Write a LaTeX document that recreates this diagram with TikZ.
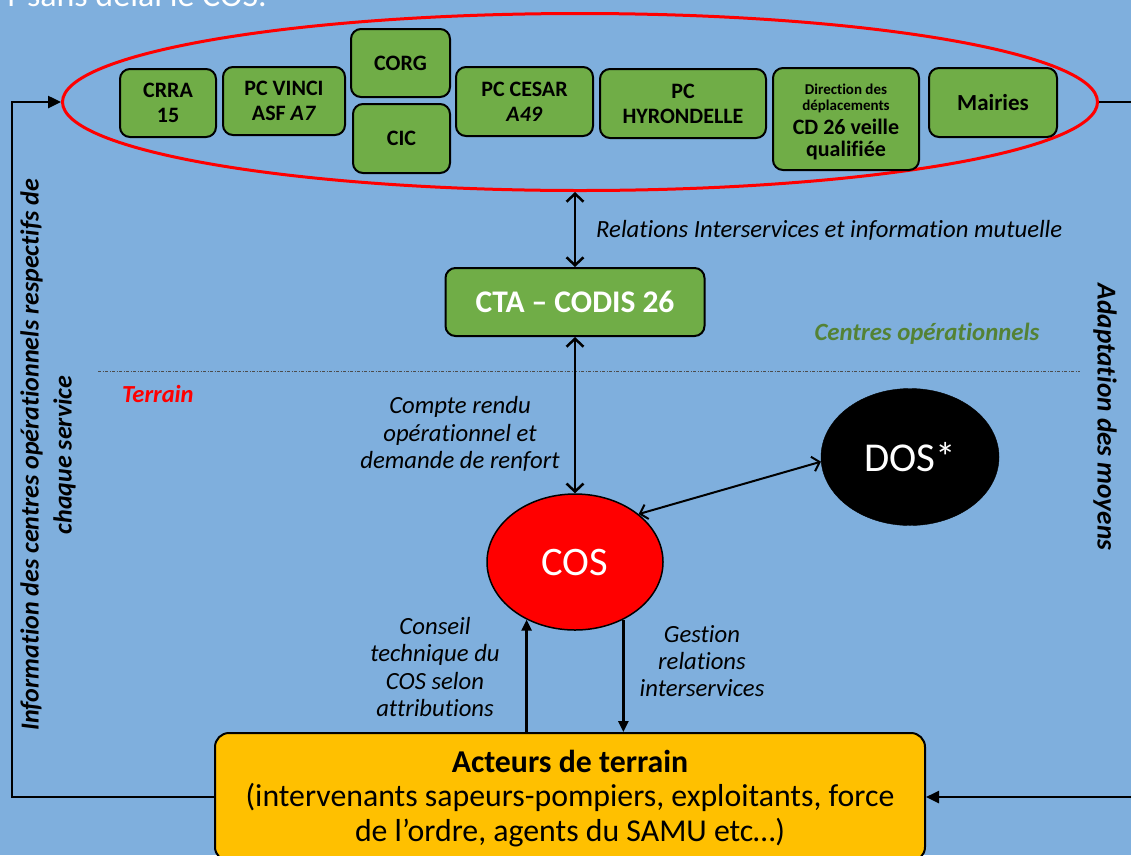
\documentclass[tikz,border=0pt]{standalone}
\usepackage{fontspec}
\setmainfont{Carlito}[Ligatures=NoCommon]
\usetikzlibrary{arrows.meta,shapes.geometric}
\definecolor{bg}{RGB}{127,175,221}
\definecolor{gbox}{RGB}{112,173,71}
\definecolor{ybox}{RGB}{255,192,0}
\definecolor{gtext}{RGB}{84,130,53}
\definecolor{redc}{RGB}{255,0,0}
\begin{document}
\begin{tikzpicture}[x=1pt,y=-1pt,
  gb/.style={draw=black, line width=2pt, fill=gbox, rounded corners=10pt, align=center,
    inner sep=0pt, font=\fontsize{22}{25}\selectfont\bfseries},
  vconn/.style={line width=2.5pt, >={Straight Barb[length=8pt,width=17pt]}, <->},
  tconn/.style={line width=2.5pt, -{Triangle[length=13pt,width=12pt]}},
  lbl/.style={align=center, inner sep=0pt, font=\fontsize{24.7}{27.3}\selectfont\itshape},
  side/.style={align=center, inner sep=0pt, font=\fontsize{26}{33}\selectfont\bfseries\itshape},
  smalltxt/.style={inner sep=0pt, font=\fontsize{15}{17}\selectfont\bfseries},
  bigtxt/.style={inner sep=0pt, font=\fontsize{22}{25}\selectfont\bfseries}]
\path[use as bounding box, fill=bg] (0,0) rectangle (1131,855);
\clip (0,0) rectangle (1131,855);

% top cut-off text
\node[anchor=base east, inner sep=0pt, text=white, font=\fontsize{34}{40}\selectfont] (toptxt) at (267,6) {r sans délai le COS.};

% big red oval
\node[draw=redc, line width=3pt, ellipse, minimum width=1035pt, minimum height=177pt, inner sep=0pt] (oval) at (580,102) {};

% green boxes
\node[gb, minimum width=96pt, minimum height=68pt] (crra) at (168,103) {CRRA\\15};
\node[gb, minimum width=122pt, minimum height=68pt] (vinci) at (284,101) {PC VINCI\\ASF \textit{A7}};
\node[gb, minimum width=99pt, minimum height=68pt] (corg) at (400.5,63) {CORG};
\node[gb, minimum width=97pt, minimum height=69pt] (cic) at (401.5,138.5) {CIC};
\node[gb, minimum width=137pt, minimum height=69pt] (cesar) at (524.5,101.5) {PC CESAR\\\textit{A49}};
\node[gb, minimum width=166pt, minimum height=69pt] (hyr) at (683,103.5) {PC\\HYRONDELLE};
\node[gb, minimum width=146pt, minimum height=102pt] (dir) at (846,119) {};
\node[smalltxt] (dir1) at (846,89) {Direction des};
\node[smalltxt] (dir2) at (846,106) {déplacements};
\node[bigtxt] (dir3) at (846,127) {CD 26 veille};
\node[bigtxt] (dir4) at (846,151) {qualifiée};
\node[gb, minimum width=128pt, minimum height=69pt, font=\fontsize{23}{26}\selectfont\bfseries] (mairies) at (993,102.5) {Mairies};

% CTA
\node[gb, minimum width=259pt, minimum height=68pt, text=white, font=\fontsize{31.5}{34}\selectfont\bfseries] (cta) at (575,302) {CTA – CODIS 26};

% COS and DOS
\node[ellipse, draw=black, line width=1.5pt, fill=redc, minimum width=176pt, minimum height=136pt, inner sep=0pt,
  text=white, font=\fontsize{40.5}{44}\selectfont] (cos) at (575,562) {COS};
\node[ellipse, draw=black, fill=black, minimum width=178pt, minimum height=137pt, inner sep=0pt,
  text=white, font=\fontsize{41}{44}\selectfont] (dos) at (910,457) {DOS*};

% acteurs de terrain
\node[draw=black, line width=2pt, fill=ybox, rounded corners=14pt, minimum width=710pt, minimum height=128pt,
  inner sep=0pt] (act) at (570,797) {};
\node[align=center, inner sep=0pt, font=\fontsize{31.8}{34.5}\selectfont] (acttxt) at (570,798.5)
  {\textbf{Acteurs de terrain}\\(intervenants sapeurs-pompiers, exploitants, force\\de l’ordre, agents du SAMU etc…)};

% dashed separator
\coordinate (d1) at (98,371);
\coordinate (d2) at (1080,371);
\draw[line width=0.9pt, color=black!70, dash pattern=on 3pt off 1.5pt on 1pt off 1.5pt] (d1) -- (d2);

% connectors
\draw[vconn] (cta.north |- oval.south) -- (cta.north);
\draw[vconn] (cta.south) -- (cos.north);
\draw[line width=2pt, >={Straight Barb[length=7pt,width=15pt]}, <->] (cos.37) -- (dos.183);
\draw[line width=2.5pt, -{Triangle[length=11pt,width=10pt]}] (act.north -| cos.230) -- (cos.230);
\draw[line width=2.5pt, -{Triangle[length=11pt,width=10pt]}] (cos.310) -- (cos.310 |- act.north);

\coordinate (lc) at (12,797);
\draw[tconn] (act.west) -- (lc) |- (oval.west);
\coordinate (rc) at (1150,797);
\draw[tconn] (oval.east) -| (rc) -- (act.east);

% labels
\node[lbl, anchor=west] (l1) at (596,230) {Relations Interservices et information mutuelle};
\node[lbl] (l2) at (460,434) {Compte rendu\\opérationnel et\\demande de renfort};
\node[lbl] (l3) at (435,667) {Conseil\\technique du\\COS selon\\attributions};
\node[lbl] (l4) at (702,661) {Gestion\\relations\\interservices};
\node[lbl, font=\fontsize{24.8}{26}\selectfont\bfseries\itshape, text=gtext] (centres) at (927,334) {Centres opérationnels};
\node[lbl, anchor=west, font=\fontsize{24.5}{26}\selectfont\bfseries\itshape, text=redc] (terrain) at (122,394) {Terrain};
\node[side, rotate=90] (lside) at (48,455) {Information des centres opérationnels respectifs de\\chaque service};
\node[side, rotate=-90, font=\fontsize{27.3}{33}\selectfont\bfseries\itshape] (rside) at (1105,417) {Adaptation des moyens};
\end{tikzpicture}
\end{document}
